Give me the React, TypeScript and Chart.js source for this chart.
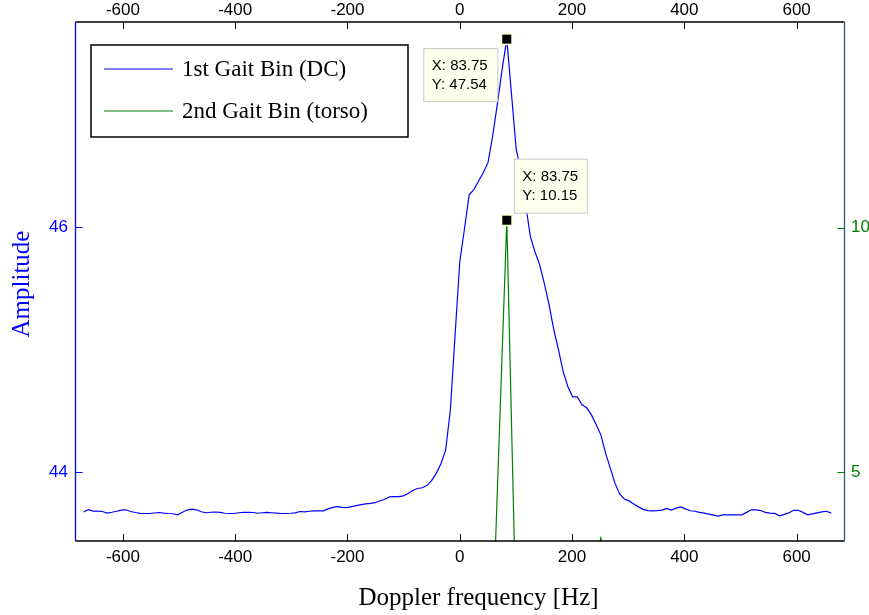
import React, { useEffect, useRef } from "react";
import { Chart, registerables } from "chart.js";
Chart.register(...registerables);

// Doppler frequency bins [Hz]
const dopplerFreq = [
  -670, -661.625, -653.25, -644.875, -636.5, -628.125, -619.75, -611.375, -603, -594.625,
  -586.25, -577.875, -569.5, -561.125, -552.75, -544.375, -536, -527.625, -519.25, -510.875,
  -502.5, -494.125, -485.75, -477.375, -469, -460.625, -452.25, -443.875, -435.5, -427.125,
  -418.75, -410.375, -402, -393.625, -385.25, -376.875, -368.5, -360.125, -351.75, -343.375,
  -335, -326.625, -318.25, -309.875, -301.5, -293.125, -284.75, -276.375, -268, -259.625,
  -251.25, -242.875, -234.5, -226.125, -217.75, -209.375, -201, -192.625, -184.25, -175.875,
  -167.5, -159.125, -150.75, -142.375, -134, -125.625, -117.25, -108.875, -100.5, -92.125,
  -83.75, -75.375, -67, -58.625, -50.25, -41.875, -33.5, -25.125, -16.75, -8.375,
  0, 8.375, 16.75, 25.125, 33.5, 41.875, 50.25, 58.625, 67, 75.375,
  83.75, 92.125, 100.5, 108.875, 117.25, 125.625, 134, 142.375, 150.75, 159.125,
  167.5, 175.875, 184.25, 192.625, 201, 209.375, 217.75, 226.125, 234.5, 242.875,
  251.25, 259.625, 268, 276.375, 284.75, 293.125, 301.5, 309.875, 318.25, 326.625,
  335, 343.375, 351.75, 360.125, 368.5, 376.875, 385.25, 393.625, 402, 410.375,
  418.75, 427.125, 435.5, 443.875, 452.25, 460.625, 469, 477.375, 485.75, 494.125,
  502.5, 510.875, 519.25, 527.625, 536, 544.375, 552.75, 561.125, 569.5, 577.875,
  586.25, 594.625, 603, 611.375, 619.75, 628.125, 636.5, 644.875, 653.25, 661.625,
];

// 1st gait bin (DC) amplitude, left axis
const gaitBin1 = [
  43.675, 43.694, 43.682, 43.682, 43.678, 43.665, 43.672, 43.68, 43.69, 43.692,
  43.678, 43.67, 43.663, 43.662, 43.662, 43.666, 43.67, 43.665, 43.662, 43.66,
  43.651, 43.672, 43.69, 43.697, 43.692, 43.676, 43.668, 43.672, 43.674, 43.671,
  43.664, 43.662, 43.662, 43.668, 43.671, 43.671, 43.67, 43.664, 43.668, 43.671,
  43.668, 43.665, 43.662, 43.662, 43.664, 43.667, 43.678, 43.675, 43.68, 43.684,
  43.684, 43.684, 43.7, 43.712, 43.718, 43.712, 43.71, 43.718, 43.726, 43.735,
  43.741, 43.744, 43.75, 43.766, 43.776, 43.798, 43.8, 43.8, 43.806, 43.825,
  43.85, 43.866, 43.872, 43.89, 43.93, 43.99, 44.068, 44.18, 44.51, 45.12,
  45.72, 45.99, 46.267, 46.31, 46.38, 46.45, 46.53, 46.75, 47.01, 47.29,
  47.54, 47.09, 46.64, 46.46, 46.19, 45.93, 45.8, 45.695, 45.54, 45.368,
  45.164, 45.0, 44.82, 44.698, 44.616, 44.616, 44.55, 44.526, 44.468, 44.39,
  44.305, 44.158, 44.035, 43.91, 43.822, 43.78, 43.765, 43.74, 43.716, 43.696,
  43.686, 43.684, 43.686, 43.69, 43.704, 43.69, 43.706, 43.716, 43.7, 43.684,
  43.68, 43.671, 43.665, 43.657, 43.648, 43.64, 43.651, 43.651, 43.651, 43.651,
  43.651, 43.671, 43.692, 43.692, 43.686, 43.671, 43.665, 43.663, 43.643, 43.655,
  43.667, 43.688, 43.688, 43.671, 43.651, 43.659, 43.667, 43.675, 43.68, 43.665,
];

// 2nd gait bin (torso) amplitude, right axis
const gaitBin2 = [
  1.42, 1.55, 1.38, 1.61, 1.47, 1.35, 1.52, 1.66, 1.49, 1.4,
  1.58, 1.63, 1.45, 1.37, 1.54, 1.7, 1.51, 1.44, 1.6, 1.48,
  1.39, 1.57, 1.68, 1.53, 1.46, 1.62, 1.71, 1.55, 1.43, 1.59,
  1.74, 1.66, 1.52, 1.61, 1.78, 1.69, 1.57, 1.73, 1.85, 1.76,
  1.64, 1.81, 1.92, 1.79, 1.88, 2.01, 1.94, 1.86, 2.07, 2.15,
  2.02, 2.18, 2.26, 2.11, 2.33, 2.41, 2.29, 2.47, 2.38, 2.55,
  2.62, 2.49, 2.71, 2.58, 2.8, 2.67, 2.86, 2.74, 2.93, 2.81,
  2.97, 3.05, 2.88, 3.12, 2.99, 3.18, 3.04, 3.21, 3.09, 3.26,
  3.14, 3.29, 3.17, 3.23, 2.95, 2.62, 2.31, 1.88, 4.65, 7.4,
  10.15, 6.02, 1.86, 2.44, 2.97, 3.21, 3.08, 3.32, 3.15, 3.27,
  3.19, 3.34, 3.22, 3.11, 3.28, 3.36, 3.24, 3.17, 3.31, 3.2,
  3.66, 3.26, 3.13, 3.29, 3.38, 3.23, 3.3, 3.41, 3.27, 3.44,
  3.35, 3.39, 3.25, 3.33, 3.18, 3.09, 3.21, 3.02, 2.94, 3.06,
  2.88, 2.97, 2.79, 2.85, 2.71, 2.63, 2.76, 2.58, 2.49, 2.61,
  2.44, 2.36, 2.51, 2.29, 2.22, 2.37, 2.15, 2.08, 2.24, 2.01,
  1.95, 2.09, 1.87, 1.98, 1.81, 1.74, 1.89, 1.69, 1.78, 1.62,
];

const freqTicks = [-600, -400, -200, 0, 200, 400, 600];
const ampTicks = [44, 46];
const torsoTicks = [5, 10];
const seriesLabels = ["1st Gait Bin (DC)", "2nd Gait Bin (torso)"];
const xTitle = "Doppler frequency [Hz]";
const yTitle = "Amplitude";

export default function App() {
  const ref = useRef<HTMLCanvasElement>(null);

  useEffect(() => {
    const canvas = ref.current;
    if (!canvas) return;
    const blue = "#0000ff";
    const green = "#008000";
    const teal = "#1e5a7a";
    const sans = "'Liberation Sans', Arial, sans-serif";
    const serif = "'Liberation Serif', 'Times New Roman', serif";

    const fixTicks = (vals: number[]) => (scale: any) => {
      scale.ticks = vals.map((v) => ({ value: v }));
    };

    const decor = {
      id: "matlabDecor",
      afterDatasetsDraw(chart: any) {
        const { ctx, chartArea: a, scales } = chart;
        const sx = scales.x, sy = scales.y, sy2 = scales.y2;
        const line = (x1: number, y1: number, x2: number, y2: number) => {
          ctx.beginPath();
          ctx.moveTo(x1, y1);
          ctx.lineTo(x2, y2);
          ctx.stroke();
        };
        ctx.save();
        // inward tick marks
        const TL = 7;
        ctx.lineWidth = 1;
        ctx.strokeStyle = "#000";
        freqTicks.forEach((v) => {
          const px = Math.round(sx.getPixelForValue(v)) + 0.5;
          line(px, a.bottom, px, a.bottom - TL);
          line(px, a.top, px, a.top + TL);
        });
        ctx.strokeStyle = blue;
        ampTicks.forEach((v) => {
          const py = Math.round(sy.getPixelForValue(v)) + 0.5;
          line(a.left, py, a.left + TL, py);
        });
        ctx.strokeStyle = green;
        torsoTicks.forEach((v) => {
          const py = Math.round(sy2.getPixelForValue(v)) + 0.5;
          line(a.right, py, a.right - TL, py);
        });
        // axes box
        ctx.lineWidth = 1.3;
        ctx.strokeStyle = "#000";
        line(a.left, a.top, a.right, a.top);
        line(a.left, a.bottom, a.right, a.bottom);
        ctx.strokeStyle = blue;
        line(a.left, a.top, a.left, a.bottom);
        ctx.strokeStyle = teal;
        line(a.right, a.top, a.right, a.bottom);

        // legend
        const lx = a.left + 15.5, ly = a.top + 23, lw = 317, lh = 92;
        ctx.fillStyle = "#fff";
        ctx.fillRect(lx, ly, lw, lh);
        ctx.lineWidth = 1.5;
        ctx.strokeStyle = "#000";
        ctx.strokeRect(lx, ly, lw, lh);
        ctx.font = `23px ${serif}`;
        ctx.textBaseline = "middle";
        ctx.textAlign = "left";
        chart.data.datasets.forEach((ds: any, i: number) => {
          const yy = ly + 24 + i * 42;
          ctx.strokeStyle = ds.borderColor;
          ctx.lineWidth = 1.2;
          line(lx + 13, yy, lx + 82, yy);
          ctx.fillStyle = "#000";
          ctx.fillText(ds.label, lx + 91, yy + 1);
        });

        // data tips
        const tip = (px: number, py: number, bx: number, by: number, bw: number, bh: number, xv: number, yv: number) => {
          ctx.fillStyle = "#ffffee";
          ctx.fillRect(px + bx, py + by, bw, bh);
          ctx.lineWidth = 1;
          ctx.strokeStyle = "#c8c8c8";
          ctx.strokeRect(px + bx + 0.5, py + by + 0.5, bw, bh);
          ctx.fillStyle = "#000";
          ctx.font = `15px ${sans}`;
          ctx.textBaseline = "middle";
          ctx.fillText(`X: ${xv.toFixed(2)}`, px + bx + 8.5, py + by + 18);
          ctx.fillText(`Y: ${yv.toFixed(2)}`, px + bx + 8.5, py + by + 37);
        };
        const marker = (px: number, py: number) => {
          ctx.fillStyle = "#ffffd8";
          ctx.fillRect(px - 6, py - 6, 12, 12);
          ctx.fillStyle = "#000";
          ctx.fillRect(px - 4.5, py - 4.5, 9, 9);
        };
        const i1 = gaitBin1.indexOf(Math.max(...gaitBin1));
        const i2 = gaitBin2.indexOf(Math.max(...gaitBin2));
        const p1x = sx.getPixelForValue(dopplerFreq[i1]);
        const p1y = sy.getPixelForValue(gaitBin1[i1]);
        const p2x = sx.getPixelForValue(dopplerFreq[i2]);
        const p2y = sy2.getPixelForValue(gaitBin2[i2]);
        tip(p1x, p1y, -83.5, 9, 74, 53, dopplerFreq[i1], gaitBin1[i1]);
        tip(p2x, p2y, 7, -61.5, 73, 54, dopplerFreq[i2], gaitBin2[i2]);
        marker(p1x, p1y);
        marker(p2x, p2y);

        // axis titles
        ctx.fillStyle = "#000";
        ctx.font = `25px ${serif}`;
        ctx.textAlign = "center";
        ctx.textBaseline = "middle";
        ctx.fillText(xTitle, 478.5, 598);
        ctx.save();
        ctx.translate(22, 284);
        ctx.rotate(-Math.PI / 2);
        ctx.fillStyle = blue;
        ctx.fillText(yTitle, 0, 0);
        ctx.restore();
        ctx.restore();
      },
    };

    const tickFont = { family: sans, size: 17 };
    const xMin = -684.5, xMax = 685.3;

    const chart = new Chart(canvas, {
      type: "scatter",
      data: {
        datasets: [
          {
            label: seriesLabels[0],
            data: dopplerFreq.map((f, i) => ({ x: f, y: gaitBin1[i] })),
            borderColor: blue,
            backgroundColor: blue,
            borderWidth: 1.2,
            pointRadius: 0,
            showLine: true,
            tension: 0,
            xAxisID: "x",
            yAxisID: "y",
          },
          {
            label: seriesLabels[1],
            data: dopplerFreq.map((f, i) => ({ x: f, y: gaitBin2[i] })),
            borderColor: green,
            backgroundColor: green,
            borderWidth: 1.2,
            pointRadius: 0,
            showLine: true,
            tension: 0,
            xAxisID: "x",
            yAxisID: "y2",
          },
        ],
      },
      options: {
        responsive: false,
        animation: false,
        devicePixelRatio: 1,
        layout: { padding: 0 },
        plugins: { legend: { display: false }, tooltip: { enabled: false } },
        events: [],
        scales: {
          x: {
            type: "linear",
            position: "bottom",
            min: xMin,
            max: xMax,
            afterBuildTicks: fixTicks(freqTicks),
            afterFit: (s: any) => { s.height = 74; },
            grid: { display: false, drawTicks: false },
            border: { display: false },
            ticks: { color: "#000", font: tickFont, padding: 5.8, maxRotation: 0, autoSkip: false, callback: (v: any) => String(v) },
          },
          x2: {
            type: "linear",
            position: "top",
            min: xMin,
            max: xMax,
            afterBuildTicks: fixTicks(freqTicks),
            afterFit: (s: any) => { s.height = 22; },
            grid: { display: false, drawTicks: false },
            border: { display: false },
            ticks: { color: "#000", font: tickFont, padding: 1.8, maxRotation: 0, autoSkip: false, callback: (v: any) => String(v) },
          },
          y: {
            type: "linear",
            position: "left",
            min: 43.437,
            max: 47.68,
            afterBuildTicks: fixTicks(ampTicks),
            afterFit: (s: any) => { s.width = 75.5; },
            grid: { display: false, drawTicks: false },
            border: { display: false },
            ticks: { color: blue, font: tickFont, padding: 7.5, callback: (v: any) => String(v) },
          },
          y2: {
            type: "linear",
            position: "right",
            min: 3.596,
            max: 14.2,
            afterBuildTicks: fixTicks(torsoTicks),
            afterFit: (s: any) => { s.width = 24.5; },
            grid: { display: false, drawTicks: false },
            border: { display: false },
            ticks: { color: green, font: tickFont, padding: 6.5, callback: (v: any) => String(v) },
          },
        },
      },
      plugins: [decor],
    });
    return () => chart.destroy();
  }, []);

  return (
    <div style={{ position: "fixed", left: 0, top: 0, width: 869, height: 615, background: "#fff" }}>
      <canvas ref={ref} width={869} height={615} style={{ display: "block" }} />
    </div>
  );
}
